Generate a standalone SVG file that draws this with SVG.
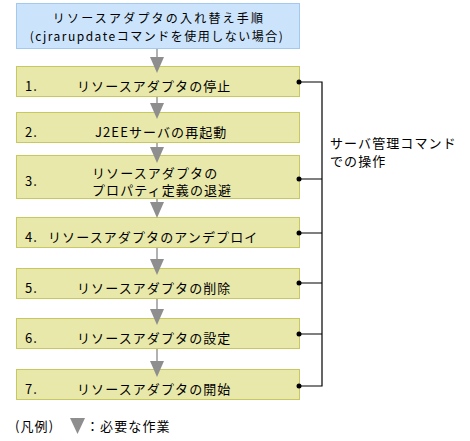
<svg xmlns="http://www.w3.org/2000/svg" width="470" height="441" viewBox="0 0 470 441">
<style>
text{font-family:"Noto Sans CJK JP","Noto Sans",sans-serif;font-size:13px;letter-spacing:1.1px;fill:#000}
.tt{font-size:12px;letter-spacing:2.2px}
.title{fill:#cce4fb;stroke:#a3c9ef;stroke-width:1}
.step{fill:#e8e8aa;stroke:#c8c860;stroke-width:1}
.tri{fill:#8e8e8e}
.gl{stroke:#999;stroke-width:1.5;fill:none}
.bl{stroke:#000;stroke-width:1.2;fill:none}
</style>
<defs>
<polygon id="tri" class="tri" points="-7,0 7,0 0,16"/>
</defs>
<g id="title">
<rect class="title" x="16.5" y="3.5" width="283" height="45"/>
<text class="tt" x="159" y="23" text-anchor="middle">リソースアダプタの入れ替え手順</text>
<text class="tt" x="157" y="40.5" text-anchor="middle" style="letter-spacing:1.5px">(cjrarupdateコマンドを使用しない場合)</text>
</g>
<g id="step1">
<rect class="step" x="16.5" y="66.5" width="283" height="30"/>
<text y="91"><tspan x="25">1.</tspan><tspan x="77">リソースアダプタの停止</tspan></text>
</g>
<g id="step2">
<rect class="step" x="16.5" y="112.5" width="283" height="30"/>
<text y="137"><tspan x="25">2.</tspan><tspan x="95">J2EEサーバの再起動</tspan></text>
</g>
<g id="step3">
<rect class="step" x="16.5" y="155.5" width="283" height="43"/>
<text x="25" y="186">3.</text>
<text x="92" y="177.5">リソースアダプタの</text>
<text x="92" y="195">プロパティ定義の退避</text>
</g>
<g id="step4">
<rect class="step" x="16.5" y="217.5" width="283" height="30"/>
<text y="242"><tspan x="25">4.</tspan><tspan x="48">リソースアダプタのアンデプロイ</tspan></text>
</g>
<g id="step5">
<rect class="step" x="16.5" y="268.5" width="283" height="30"/>
<text y="293"><tspan x="25">5.</tspan><tspan x="77">リソースアダプタの削除</tspan></text>
</g>
<g id="step6">
<rect class="step" x="16.5" y="318.5" width="283" height="30"/>
<text y="343"><tspan x="25">6.</tspan><tspan x="77">リソースアダプタの設定</tspan></text>
</g>
<g id="step7">
<rect class="step" x="16.5" y="369.5" width="283" height="30"/>
<text y="394"><tspan x="25">7.</tspan><tspan x="77">リソースアダプタの開始</tspan></text>
</g>
<g id="label-cmd">
<text x="330" y="147.5">サーバ管理コマンド</text>
<text x="330" y="166">での操作</text>
</g>
<g id="connectors">
<line class="gl" x1="157" y1="49" x2="157" y2="58"/>
<use href="#tri" x="157" y="57"/>
<line class="gl" x1="157" y1="97" x2="157" y2="104"/>
<use href="#tri" x="157" y="103"/>
<line class="gl" x1="157" y1="143" x2="157" y2="148"/>
<use href="#tri" x="157" y="147"/>
<line class="gl" x1="157" y1="199" x2="157" y2="203"/>
<use href="#tri" x="157" y="202"/>
<line class="gl" x1="157" y1="248" x2="157" y2="260"/>
<use href="#tri" x="157" y="259"/>
<line class="gl" x1="157" y1="299" x2="157" y2="310"/>
<use href="#tri" x="157" y="309"/>
<line class="gl" x1="157" y1="349" x2="157" y2="362"/>
<use href="#tri" x="157" y="361"/>
<path class="bl" d="M299,82H322V386H299M299,179H322M299,233H322M299,283H322M299,334H322"/>
<circle cx="299" cy="82" r="2.5"/>
<circle cx="299" cy="179" r="2.5"/>
<circle cx="299" cy="233" r="2.5"/>
<circle cx="299" cy="283" r="2.5"/>
<circle cx="299" cy="334" r="2.5"/>
<circle cx="299" cy="386" r="2.5"/>
</g>
<g id="legend">
<text x="15" y="431">(凡例)</text>
<polygon class="tri" points="70,418 85,418 77.5,434"/>
<text x="86" y="431">：必要な作業</text>
</g>
</svg>
